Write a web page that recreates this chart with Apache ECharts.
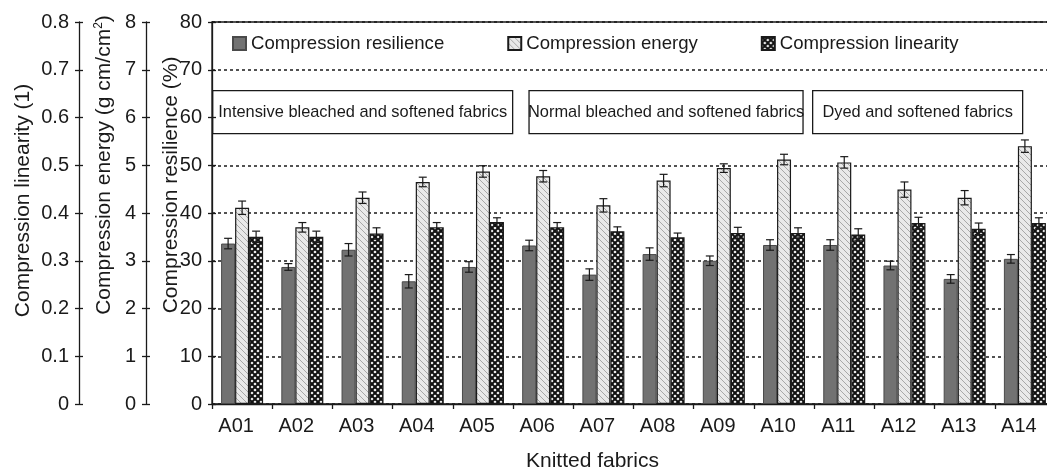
<!DOCTYPE html>
<html>
<head>
<meta charset="utf-8">
<title>Compression properties of knitted fabrics</title>
<script src="https://cdn.jsdelivr.net/npm/echarts@6/dist/echarts.min.js"></script>
<style>
  html, body { margin: 0; padding: 0; background: #fff; }
  #main { width: 1047px; height: 473px; }
</style>
</head>
<body>
<div id="main"></div>
<script>
// fabric codes on the x axis
const fabrics = ['A01', 'A02', 'A03', 'A04', 'A05', 'A06', 'A07', 'A08', 'A09', 'A10', 'A11', 'A12', 'A13', 'A14'];

// compression resilience (%)
const resilience = [33.6, 28.7, 32.3, 25.7, 28.7, 33.2, 27.1, 31.4, 30.0, 33.3, 33.3, 29.0, 26.2, 30.4];
const resilienceErr = [1.1, 0.7, 1.3, 1.4, 1.1, 1.1, 1.2, 1.3, 1.0, 1.1, 1.1, 0.9, 0.9, 0.9];

// compression energy (g cm/cm2)
const energy = [4.11, 3.70, 4.32, 4.65, 4.87, 4.77, 4.16, 4.68, 4.94, 5.12, 5.06, 4.49, 4.32, 5.40];
const energyErr = [0.14, 0.10, 0.12, 0.10, 0.12, 0.12, 0.14, 0.13, 0.09, 0.11, 0.12, 0.16, 0.15, 0.13];

// compression linearity (1)
const linearity = [0.350, 0.350, 0.357, 0.370, 0.381, 0.370, 0.362, 0.349, 0.358, 0.358, 0.355, 0.379, 0.367, 0.379];
const linearityErr = [0.012, 0.012, 0.012, 0.010, 0.009, 0.010, 0.009, 0.009, 0.012, 0.011, 0.012, 0.012, 0.012, 0.011];

const seriesNames = ['Compression resilience', 'Compression energy', 'Compression linearity'];
const groupLabels = ['Intensive bleached and softened fabrics', 'Normal bleached and softened fabrics', 'Dyed and softened fabrics'];

const FONT = '"Liberation Sans", Arial, Helvetica, sans-serif';
const INK = '#1a1a1a';

// fill patterns for the two hatched series
function makePattern(draw) {
  const c = document.createElement('canvas');
  c.width = 6; c.height = 6;
  draw(c.getContext('2d'));
  return { image: c, repeat: 'repeat' };
}
const energyFill = makePattern(ctx => {
  ctx.fillStyle = '#e9e9e9';
  ctx.fillRect(0, 0, 6, 6);
  ctx.strokeStyle = '#a8a8a8';
  ctx.lineWidth = 1;
  ctx.beginPath();
  ctx.moveTo(0, 0); ctx.lineTo(6, 6);
  ctx.moveTo(-3, 3); ctx.lineTo(3, 9);
  ctx.moveTo(3, -3); ctx.lineTo(9, 3);
  ctx.stroke();
});
const linearityFill = makePattern(ctx => {
  ctx.fillStyle = '#fff';
  ctx.fillRect(0, 0, 6, 6);
  ctx.strokeStyle = '#111';
  ctx.lineWidth = 2;
  ctx.beginPath();
  ctx.moveTo(0, 0); ctx.lineTo(6, 6);
  ctx.moveTo(6, 0); ctx.lineTo(0, 6);
  ctx.stroke();
});

const BAR_W = 14;

function errorBars(name, vals, errs, axisIdx, offset) {
  return {
    type: 'custom',
    name: name,
    yAxisIndex: axisIdx,
    z: 5,
    silent: true,
    renderItem: function (params, api) {
      const i = api.value(0);
      const v = api.value(1);
      const e = api.value(2);
      const hi = api.coord([i, v + e]);
      const lo = api.coord([i, v - e]);
      const x = hi[0] + offset;
      const cap = 4;
      const st = { stroke: INK, lineWidth: 1.2 };
      return {
        type: 'group',
        children: [
          { type: 'line', shape: { x1: x, y1: hi[1], x2: x, y2: lo[1] }, style: st },
          { type: 'line', shape: { x1: x - cap, y1: hi[1], x2: x + cap, y2: hi[1] }, style: st },
          { type: 'line', shape: { x1: x - cap, y1: lo[1], x2: x + cap, y2: lo[1] }, style: st }
        ]
      };
    },
    data: vals.map((v, i) => [i, v, errs[i]])
  };
}

function valueAxis(min, max, interval, offset, name, gap, shift) {
  return {
    type: 'value',
    position: 'left',
    offset: offset,
    min: min, max: max, interval: interval,
    name: name,
    nameLocation: 'middle',
    nameGap: gap,
    nameMoveOverlap: false,
    nameTextStyle: {
      fontFamily: FONT, fontSize: 21, color: INK,
      padding: [0, 0, 0, shift],
      rich: { sup: { fontFamily: FONT, fontSize: 12, color: INK, verticalAlign: 'top', padding: [0, 0, 10, 0] } }
    },
    axisLine: { show: true, lineStyle: { color: INK, width: 1.3 } },
    axisTick: { show: true, length: 4, lineStyle: { color: INK, width: 1.3 } },
    axisLabel: { fontFamily: FONT, fontSize: 20, color: INK, margin: 10 },
    splitLine: { show: false }
  };
}

// short inside ticks so each axis tick crosses its line
function innerTicks(min, max, interval, offset) {
  return {
    type: 'value', position: 'left', offset: offset,
    min: min, max: max, interval: interval,
    axisLine: { show: false },
    axisTick: { show: true, inside: true, length: 4, lineStyle: { color: INK, width: 1.3 } },
    axisLabel: { show: false },
    splitLine: { show: false }
  };
}

const mainAxis = valueAxis(0, 80, 10, 0, 'Compression resilience (%)', 30, 56);
mainAxis.splitLine = {
  show: true,
  lineStyle: {
    type: [3, 3], width: 1.5,
    color: [INK, INK, INK, INK, INK, INK, 'rgba(0,0,0,0)', INK, INK]
  }
};

const chart = echarts.init(document.getElementById('main'));
chart.setOption({
  animation: false,
  textStyle: { fontFamily: FONT },
  grid: {
    left: 212, right: -8, top: 22, bottom: 69,
    outerBoundsMode: 'none',
    show: true, borderColor: INK, borderWidth: 1.3, backgroundColor: 'transparent'
  },
  legend: {
    data: seriesNames,
    left: 232, top: 34, padding: 0,
    itemWidth: 13, itemHeight: 13, itemGap: 63,
    icon: 'rect',
    textStyle: { fontFamily: FONT, fontSize: 18.6, color: INK }
  },
  xAxis: {
    type: 'category',
    data: fabrics,
    name: 'Knitted fabrics',
    nameLocation: 'middle',
    nameGap: 47,
    nameMoveOverlap: false,
    nameTextStyle: { fontFamily: FONT, fontSize: 21, color: INK, padding: [0, 82, 0, 0] },
    axisLine: { lineStyle: { color: INK, width: 1.3 } },
    axisTick: { show: true, length: 5, lineStyle: { color: INK, width: 1.3 } },
    axisLabel: { fontFamily: FONT, fontSize: 20, color: INK, margin: 12, padding: [0, 12, 0, 0] }
  },
  yAxis: [
    mainAxis,
    valueAxis(0, 8, 1, 66, 'Compression energy (g cm/cm{sup|2})', 31, 96),
    valueAxis(0, 0.8, 0.1, 133, 'Compression linearity (1)', 45, 25),
    innerTicks(0, 80, 10, 0),
    innerTicks(0, 8, 1, 66),
    innerTicks(0, 0.8, 0.1, 133)
  ],
  graphic: [
    { x: 212, w: 300 },
    { x: 528, w: 274 },
    { x: 812, w: 210 }
  ].map((b, i) => ({
    type: 'group', left: b.x, top: 90, z: 100,
    children: [
      { type: 'rect', shape: { x: 0, y: 0, width: b.w, height: 43 }, style: { fill: '#fff', stroke: INK, lineWidth: 1.3 } },
      { type: 'text', x: b.w / 2, y: 22, style: { text: groupLabels[i], fill: INK, font: '16.4px ' + FONT, align: 'center', verticalAlign: 'middle' } }
    ]
  })),
  series: [
    {
      name: seriesNames[0], type: 'bar', yAxisIndex: 0,
      barWidth: BAR_W, barGap: '0%',
      itemStyle: { color: '#727272', borderColor: '#4a4a4a', borderWidth: 1 },
      data: resilience
    },
    {
      name: seriesNames[1], type: 'bar', yAxisIndex: 1,
      barWidth: BAR_W, barGap: '0%',
      itemStyle: { color: energyFill, borderColor: INK, borderWidth: 1.2 },
      data: energy
    },
    {
      name: seriesNames[2], type: 'bar', yAxisIndex: 2,
      barWidth: BAR_W, barGap: '0%',
      itemStyle: { color: linearityFill, borderColor: INK, borderWidth: 1.2 },
      data: linearity
    },
    errorBars('resilience error', resilience, resilienceErr, 0, -BAR_W),
    errorBars('energy error', energy, energyErr, 1, 0),
    errorBars('linearity error', linearity, linearityErr, 2, BAR_W)
  ]
});
</script>
</body>
</html>
